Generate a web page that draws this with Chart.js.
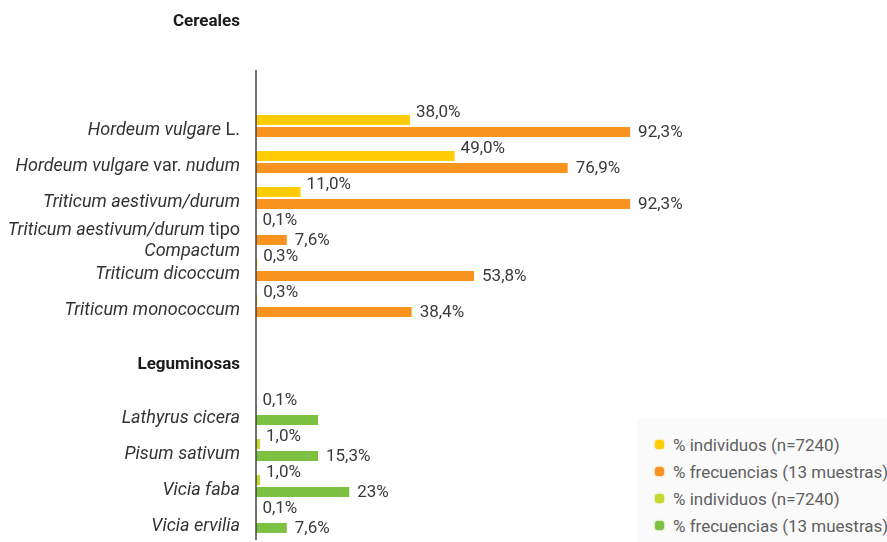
<!DOCTYPE html>
<html>
<head>
<meta charset="utf-8">
<script src="https://cdn.jsdelivr.net/npm/chart.js@4.4.1/dist/chart.umd.min.js"></script>
<style>
  html, body { margin: 0; padding: 0; background: #fff; }
  #wrap { position: relative; width: 887px; height: 542px; overflow: hidden; }
  #legend {
    position: absolute; left: 637px; top: 419px; width: 260px; height: 123px;
    background: #fafafa; padding-top: 13px; box-sizing: border-box;
    font-family: Roboto, sans-serif; font-size: 17px; color: #5f5f5f; white-space: nowrap;
  }
  #legend .item { height: 27px; line-height: 27px; padding-left: 18px; }
  #legend .dot {
    display: inline-block; width: 9px; height: 9px; border-radius: 3px;
    margin-right: 9px; vertical-align: middle; position: relative; top: -2px;
  }
</style>
</head>
<body>
<div id="wrap">
  <canvas id="chart" width="887" height="542"></canvas>
  <div id="legend"></div>
</div>
<script>
// groups and their species
const cerealNames = ['Hordeum vulgare L.', 'Hordeum vulgare var. nudum', 'Triticum aestivum/durum',
  ['Triticum aestivum/durum tipo', 'Compactum'], 'Triticum dicoccum', 'Triticum monococcum'];
const legumeNames = ['Lathyrus cicera', 'Pisum sativum', 'Vicia faba', 'Vicia ervilia'];

// values (%)
const cerealIndividuos = [38.0, 49.0, 11.0, 0.1, 0.3, 0.3];
const cerealFrecuencias = [92.3, 76.9, 92.3, 7.6, 53.8, 38.4];
const legumeIndividuos = [0.1, 1.0, 1.0, 0.1];
const legumeFrecuencias = [15.3, 15.3, 23, 7.6];

// printed value labels
const cerealIndividuosLabels = ['38,0%', '49,0%', '11,0%', '0,1%', '0,3%', '0,3%'];
const cerealFrecuenciasLabels = ['92,3%', '76,9%', '92,3%', '7,6%', '53,8%', '38,4%'];
const legumeIndividuosLabels = ['0,1%', '1,0%', '1,0%', '0,1%'];
const legumeFrecuenciasLabels = ['', '15,3%', '23%', '7,6%'];

const seriesNames = ['% individuos (n=7240)', '% frecuencias (13 muestras)'];

// category rows: header, spacing, species...
const categories = ['Cereales', '', '', ...cerealNames, '', 'Leguminosas', ...legumeNames];
const headers = ['Cereales', 'Leguminosas'];
const uprightWords = ['L.', 'var.', 'tipo'];

const cerealStart = 3;
const legumeStart = cerealStart + cerealNames.length + 2;

function place(values, start) {
  const out = categories.map(() => null);
  values.forEach((v, i) => { out[start + i] = v; });
  return out;
}

const labelPlugin = {
  id: 'labels',
  afterDatasetsDraw(chart) {
    const ctx = chart.ctx;
    const xs = chart.scales.x, ys = chart.scales.y;
    const x0 = xs.getPixelForValue(0);
    ctx.save();

    // axis line
    ctx.strokeStyle = '#444';
    ctx.lineWidth = 1.5;
    ctx.beginPath();
    ctx.moveTo(x0, ys.getPixelForValue(1) + 16);
    ctx.lineTo(x0, chart.chartArea.bottom);
    ctx.stroke();

    // value labels
    ctx.font = '17px Roboto';
    ctx.fillStyle = '#3a3a3a';
    ctx.textAlign = 'left';
    ctx.textBaseline = 'middle';
    chart.data.datasets.forEach((ds, di) => {
      chart.getDatasetMeta(di).data.forEach((bar, i) => {
        const text = ds.valueLabels[i];
        if (!text) return;
        const dy = ds.stack === 'ind' ? -7 : 1;
        const dx = ds.stack === 'ind' ? 6 : 8;
        ctx.fillText(text, bar.x + dx, bar.y + dy);
      });
    });

    // category labels, italic species with upright qualifiers
    const right = x0 - 16;
    categories.forEach((label, i) => {
      const lines = Array.isArray(label) ? label : [label];
      if (!lines[0]) return;
      const isHeader = headers.includes(label);
      let yc = ys.getPixelForValue(i) + 4;
      if (label === 'Leguminosas') yc -= 17;
      if (lines.length > 1) yc += 3;
      const size = isHeader ? 17 : 18;
      lines.forEach((line, k) => {
        const y = yc + (k - (lines.length - 1) / 2) * 21;
        const words = line.split(' ');
        const fonts = words.map(w => isHeader ? 'bold ' + size + 'px Roboto'
          : uprightWords.includes(w) ? size + 'px Roboto' : 'italic ' + size + 'px Roboto');
        ctx.font = size + 'px Roboto';
        const space = ctx.measureText(' ').width;
        const widths = words.map((w, j) => { ctx.font = fonts[j]; return ctx.measureText(w).width; });
        const total = widths.reduce((a, b) => a + b, 0) + space * (words.length - 1);
        let x = right - total;
        ctx.fillStyle = isHeader ? '#1a1a1a' : '#333';
        words.forEach((w, j) => {
          ctx.font = fonts[j];
          ctx.fillText(w, x, y);
          x += widths[j] + space;
        });
      });
    });
    ctx.restore();
  }
};

const chart = new Chart(document.getElementById('chart'), {
  type: 'bar',
  data: {
    labels: categories,
    datasets: [
      { label: seriesNames[0], stack: 'ind', data: place(cerealIndividuos, cerealStart),
        valueLabels: place(cerealIndividuosLabels, cerealStart), backgroundColor: '#FFCC05' },
      { label: seriesNames[1], stack: 'freq', data: place(cerealFrecuencias, cerealStart),
        valueLabels: place(cerealFrecuenciasLabels, cerealStart), backgroundColor: '#F7931E' },
      { label: seriesNames[0], stack: 'ind', data: place(legumeIndividuos, legumeStart),
        valueLabels: place(legumeIndividuosLabels, legumeStart), backgroundColor: '#C5D82E' },
      { label: seriesNames[1], stack: 'freq', data: place(legumeFrecuencias, legumeStart),
        valueLabels: place(legumeFrecuenciasLabels, legumeStart), backgroundColor: '#7DC142' },
    ],
  },
  options: {
    indexAxis: 'y',
    responsive: false,
    animation: false,
    devicePixelRatio: 1,
    categoryPercentage: 0.66,
    barPercentage: 0.84,
    layout: { padding: { left: 256, right: 23, top: 0, bottom: 2 } },
    plugins: { legend: { display: false }, tooltip: { enabled: false } },
    scales: {
      x: { display: false, min: 0, max: 150 },
      y: { display: false },
    },
  },
  plugins: [labelPlugin],
});

// legend box at bottom right
const legendEl = document.getElementById('legend');
chart.data.datasets.forEach(ds => {
  const item = document.createElement('div');
  item.className = 'item';
  const dot = document.createElement('span');
  dot.className = 'dot';
  dot.style.background = ds.backgroundColor;
  dot.style.boxShadow = '0 0 2px ' + ds.backgroundColor;
  item.appendChild(dot);
  item.appendChild(document.createTextNode(ds.label));
  legendEl.appendChild(item);
});
</script>
</body>
</html>
